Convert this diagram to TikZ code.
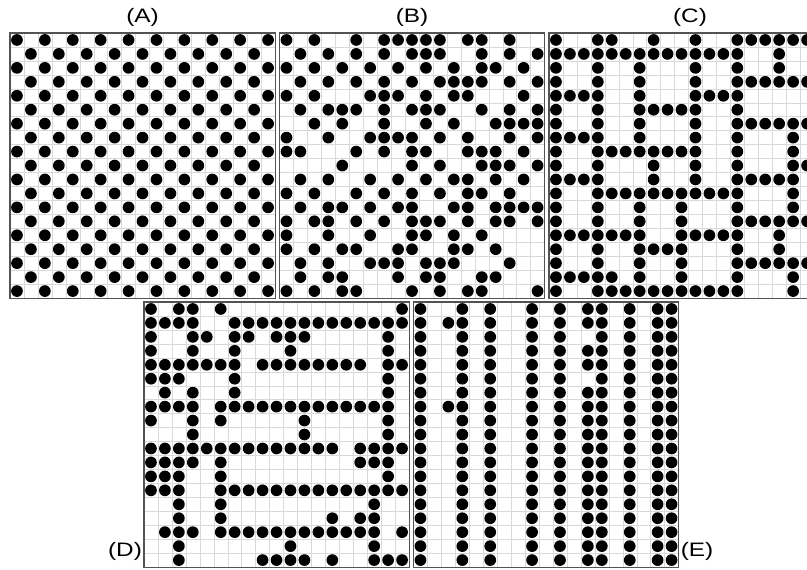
\documentclass[tikz,border=0pt]{standalone}
\usepackage{fontspec}
\setmainfont{Liberation Sans}
\usetikzlibrary{positioning}

% one 19x19 panel: light grid + frame
\newcommand{\gridpanel}{%
  \foreach \i in {1,...,18}{
    \draw[cellgrid] (\i,0) -- (\i,19);
    \draw[cellgrid] (0,\i) -- (19,\i);}
  \draw[frame] (0,0) rectangle (19,19);}
% dot in cell (column, row), rows counted from the top
\newcommand{\celldot}[2]{\fill[dot] (#1+0.5,#2+0.5) circle[radius=0.42];}

\begin{document}
\begin{tikzpicture}[
  x=0.75pt,y=-0.75pt,
  cellgrid/.style={draw=gray!30,line width=0.3pt},
  frame/.style={draw=gray!65!black,line width=0.8pt},
  dot/.style={fill=black},
  cellunit/.style={x=10.4625pt,y=-10.4625pt},
  lbl/.style={font=\fontsize{14.6}{16}\selectfont,inner sep=0pt},
]
\useasboundingbox (0,0) rectangle (807,570);
\clip (0,0) rectangle (807,570);

% (A) regular checkerboard
\begin{scope}[shift={(10,33)},cellunit]
  \gridpanel
  \foreach \r in {0,...,18}
    \foreach \c in {0,...,18}{
      \pgfmathparse{int(mod(\r+\c,2))}
      \ifnum\pgfmathresult=0 \celldot{\c}{\r}\fi
    }
\end{scope}

% (B) random
\begin{scope}[shift={(279.5,33)},cellunit]
  \gridpanel
  \foreach \r/\cs in {
    0/{0,2,5,7,8,9,10,11,13,14,16},
    1/{1,3,5,7,9,10,11,14,16,18},
    2/{0,2,4,6,8,10,12,14,15,17},
    3/{1,3,5,7,9,11,12,13,14,16,18},
    4/{0,2,6,7,8,10,12,13,17},
    5/{1,3,4,5,7,9,10,11,14,16,18},
    6/{2,4,7,10,12,15,16,17,18},
    7/{0,3,6,7,8,9,11,13,16,18},
    8/{0,1,5,7,9,10,13,14,15,17},
    9/{4,9,11,14,15,16,18},
    10/{1,3,6,8,10,12,13,15,17},
    11/{0,2,5,7,9,11,13,14,16},
    12/{1,3,4,6,8,9,12,13,15,16,17,18},
    13/{0,2,3,5,7,9,10,11,13,15,16,18},
    14/{0,3,6,9,10,12,14},
    15/{0,2,4,5,8,9,12,13,15},
    16/{1,3,6,7,8,10,11,12,16},
    17/{1,3,4,8,10,11,14,15},
    18/{0,2,4,5,9,11,13,14,18}}
    \foreach \c in \cs {\celldot{\c}{\r}}
\end{scope}

% (C) block walls
\begin{scope}[shift={(549,33)},cellunit]
  \gridpanel
  \foreach \r/\cs in {
    0/{0,3,4,7,10,13,14,15,16,17,18},
    1/{0,1,2,3,4,5,6,7,8,9,10,11,12,13,16},
    2/{0,3,6,10,13,16},
    3/{0,3,6,10,13,14,15,16,17,18},
    4/{0,1,2,3,6,10,11,12,13},
    5/{0,3,6,7,8,9,10,13},
    6/{0,3,6,10,13,14,15,16,17,18},
    7/{0,1,2,3,6,10,13,17},
    8/{0,3,4,5,6,7,8,9,10,13,17},
    9/{0,3,7,10,13,17,18},
    10/{0,1,2,3,7,10,13,14,15,16,17},
    11/{0,3,4,5,6,7,8,9,10,11,12,13,17},
    12/{0,3,6,9,13,17},
    13/{0,3,6,9,13,14,15,16,17,18},
    14/{0,1,2,3,4,5,6,9,10,11,12,13,16},
    15/{0,3,6,7,8,9,13,16},
    16/{0,3,6,9,13,14,15,16,17,18},
    17/{0,1,2,3,4,6,9,13,17},
    18/{0,3,4,5,6,7,8,9,10,11,12,13,17}}
    \foreach \c in \cs {\celldot{\c}{\r}}
\end{scope}

% (D) corridors
\begin{scope}[shift={(144,302)},cellunit]
  \gridpanel
  \foreach \r/\cs in {
    0/{0,2,3,5,18},
    1/{0,1,2,3,6,7,8,9,10,11,12,13,14,15,16,17,18},
    2/{0,3,4,6,7,9,10,11,17},
    3/{0,3,6,10,17},
    4/{0,1,2,3,4,5,6,8,9,10,11,12,13,14,15,17,18},
    5/{0,1,2,6,17},
    6/{1,3,6,17},
    7/{0,1,2,3,5,6,7,8,9,10,11,12,13,14,15,16,17},
    8/{0,3,5,11,17},
    9/{3,11,17},
    10/{0,1,2,3,4,5,6,7,8,9,10,11,12,13,15,16,17,18},
    11/{0,1,2,3,5,15,16,17},
    12/{0,1,2,5,17},
    13/{0,1,2,5,6,7,8,9,10,11,12,13,14,15,16,17,18},
    14/{2,5,16},
    15/{2,5,13,15,16},
    16/{1,2,3,5,6,7,8,9,10,11,12,13,14,15,16,18},
    17/{2,10,16},
    18/{2,8,9,10,11,13,16,17,18}}
    \foreach \c in \cs {\celldot{\c}{\r}}
\end{scope}

% (E) columns
\begin{scope}[shift={(413.5,302)},cellunit]
  \gridpanel
  \foreach \c in {0,3,5,8,10,13,15,17,18}
    \foreach \r in {0,...,18} {\celldot{\c}{\r}}
  \foreach \r in {0,1,3,4,6,7,8,9,10,11,12,13,14,15,16,17,18} {\celldot{12}{\r}}
  \foreach \r in {1,7} {\celldot{2}{\r}}
\end{scope}

% panel labels
\node[lbl] (labA) at (142.5,17) {\scalebox{1.25}[1]{(A)}};
\node[lbl] (labB) at (412,17) {\scalebox{1.25}[1]{(B)}};
\node[lbl] (labC) at (690,17) {\scalebox{1.25}[1]{(C)}};
\node[lbl] (labD) at (125,551) {\scalebox{1.25}[1]{(D)}};
\node[lbl] (labE) at (697,551) {\scalebox{1.25}[1]{(E)}};
\end{tikzpicture}
\end{document}
